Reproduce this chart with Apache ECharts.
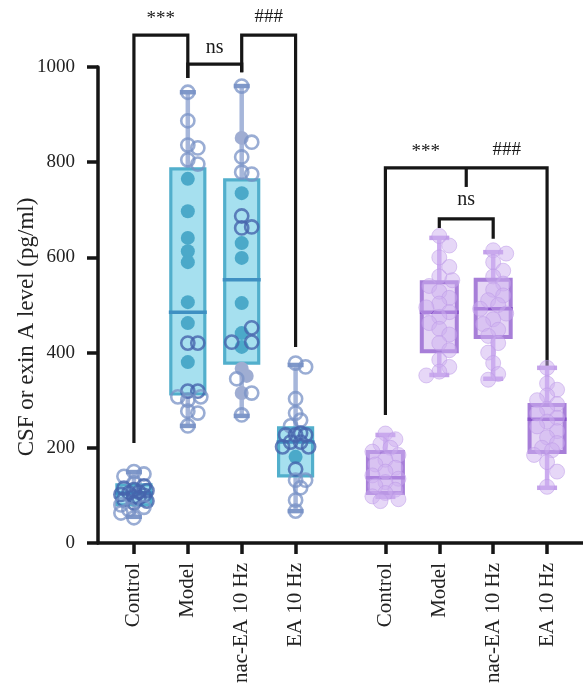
<!DOCTYPE html>
<html><head><meta charset="utf-8">
<script src="https://cdn.jsdelivr.net/npm/echarts@6/dist/echarts.min.js"></script>
<style>html,body{margin:0;padding:0;background:#fff}#c{width:583px;height:684px}</style>
</head><body><div id="c"></div>
<script>
// ---------- data ----------
const categories = ['Control', 'Model', 'nac-EA 10 Hz', 'EA 10 Hz', 'Control', 'Model', 'nac-EA 10 Hz', 'EA 10 Hz'];
const yTickValues = [0, 200, 400, 600, 800, 1000];
// box statistics: [min, Q1, median, Q3, max]
const boxStatsLeft = [
  [55, 80, 105, 122, 149],
  [246, 313, 485, 786, 947],
  [267, 378, 553, 763, 960],
  [67, 141, 212, 242, 374]
];
const boxStatsRight = [
  [97, 105, 137, 191, 227],
  [353, 403, 485, 548, 641],
  [345, 433, 492, 553, 611],
  [116, 191, 260, 290, 368]
];
// individual points, left panel (open and filled markers)
const openPointsLeft = [
  [150, 145, 140, 126, 120, 115, 112, 110, 107, 105, 102, 100, 97, 95, 91, 88, 84, 80, 75, 70, 63, 53],
  [947, 887, 836, 830, 805, 796, 420, 420, 319, 319, 300, 307, 307, 277, 273, 246],
  [960, 842, 811, 779, 775, 687, 662, 664, 452, 422, 422, 345, 315, 269],
  [378, 370, 303, 273, 258, 246, 227, 227, 227, 231, 212, 212, 202, 202, 155, 132, 132, 116, 90, 67]
];
const filledPointsLeft = [
  [],
  [765, 697, 641, 613, 590, 506, 462, 380],
  [851, 735, 630, 599, 504, 441, 412, 366, 351, 315],
  [181]
];
// individual points, right panel
const pointsRight = [
  [230, 218, 208, 200, 192, 185, 175, 165, 158, 150, 142, 135, 128, 120, 112, 105, 98, 92, 88],
  [645, 625, 600, 580, 560, 552, 540, 528, 515, 503, 495, 485, 475, 462, 450, 438, 420, 405, 385, 370, 360, 352],
  [615, 608, 590, 572, 560, 545, 532, 520, 510, 500, 492, 482, 470, 460, 448, 435, 420, 400, 378, 355, 343],
  [368, 335, 322, 310, 300, 292, 282, 272, 263, 255, 245, 235, 222, 210, 200, 195, 185, 170, 150, 118]
];
// significance brackets: [groupA, groupB, top, endA, endB, middleTickEnd(-1 none)]
const bracketRows = [
  [0, 1, 1067, 210, 977, -1],
  [1, 2, 1006, 977, 989, -1],
  [2, 3, 1067, 989, 412, -1],
  [4, 7, 788, 269, 368, 748],
  [5, 6, 681, 662, 639, -1]
];
const sigTexts = ['***', 'ns', '###', '***', '###', 'ns'];
// [groupA, groupB, fraction between them, value]
const sigTextPos = [
  [0, 1, 0.5, 1100],
  [1, 2, 0.5, 1040],
  [2, 3, 0.5, 1105],
  [4, 7, 0.25, 821],
  [4, 7, 0.75, 826],
  [5, 6, 0.5, 721]
];

// ---------- layout ----------
const SLOT_COUNT = 28;
const slotOf = [2, 5, 8, 11, 16, 19, 22, 25];
const xSlots = Array.from({length: SLOT_COUNT}, (_, i) => {
  const k = slotOf.indexOf(i); return k >= 0 ? categories[k] : '';
});
const FONT = 'Liberation Serif';
const PAL = [
  {fill: '#a6e0ef', border: '#52afcc', bw: 3.2, median: '#3f90c2', whisker: '#a6b6da', cap: '#7f98c9', boxW: 34, capW: 16},
  {fill: '#e5d6f5', border: '#a77ed8', bw: 4, median: '#8a55cb', whisker: '#cbabef', cap: '#c4a2ea', boxW: 35, capW: 20}
];
const allStats = boxStatsLeft.concat(boxStatsRight);

const boxData = allStats.map((s, g) => [slotOf[g], s[0], s[1], s[2], s[3], s[4], g < 4 ? 0 : 1]);

const groupPoints = [];
const pointData = [];
for (let g = 0; g < 8; g++) {
  const list = [];
  if (g < 4) {
    filledPointsLeft[g].forEach(v => list.push({v, kind: 1}));
    openPointsLeft[g].forEach(v => list.push({v, kind: 0}));
  } else {
    pointsRight[g - 4].forEach(v => list.push({v, kind: 2}));
  }
  groupPoints.push(list);
  list.forEach((p, i) => pointData.push([slotOf[g], p.v, p.kind, g, i]));
}

const swarmCache = {};
function swarm(g, api) {
  if (swarmCache[g]) return swarmCache[g];
  const ys = groupPoints[g].map(p => api.coord([slotOf[g], p.v])[1]);
  const d = g < 4 ? 8 : 11;
  const cands = [0, 5, -5, 10, -10, 13, -13];
  const placed = [], offs = [];
  ys.forEach(y => {
    let best = 0, bestScore = -1;
    for (const o of cands) {
      let mn = Infinity;
      placed.forEach(p => { mn = Math.min(mn, Math.hypot(p[0] - o, p[1] - y)); });
      if (mn >= d) { best = o; bestScore = Infinity; break; }
      if (mn > bestScore) { bestScore = mn; best = o; }
    }
    placed.push([best, y]); offs.push(best);
  });
  swarmCache[g] = offs;
  return offs;
}

function renderBox(params, api) {
  const slot = api.value(0);
  const x = api.coord([slot, 0])[0];
  const y = [1, 2, 3, 4, 5].map(i => api.coord([slot, api.value(i)])[1]);
  const p = PAL[api.value(6)];
  const w = p.boxW, cw = p.capW;
  return {type: 'group', children: [
    {type: 'line', shape: {x1: x, y1: y[4], x2: x, y2: y[3]}, style: {stroke: p.whisker, lineWidth: 4.5}},
    {type: 'line', shape: {x1: x, y1: y[1], x2: x, y2: y[0]}, style: {stroke: p.whisker, lineWidth: 4.5}},
    {type: 'line', shape: {x1: x - cw / 2, y1: y[4], x2: x + cw / 2, y2: y[4]}, style: {stroke: p.cap, lineWidth: 4.5}},
    {type: 'line', shape: {x1: x - cw / 2, y1: y[0], x2: x + cw / 2, y2: y[0]}, style: {stroke: p.cap, lineWidth: 4.5}},
    {type: 'rect', shape: {x: x - w / 2, y: y[3], width: w, height: y[1] - y[3]},
      style: {fill: p.fill, stroke: p.border, lineWidth: p.bw}},
    {type: 'line', shape: {x1: x - w / 2 - 2, y1: y[2], x2: x + w / 2 + 2, y2: y[2]}, style: {stroke: p.median, lineWidth: 3.5}}
  ]};
}

function renderPoint(params, api) {
  const slot = api.value(0), v = api.value(1), kind = api.value(2), g = api.value(3), idx = api.value(4);
  const c = api.coord([slot, v]);
  const off = swarm(g, api)[idx];
  const st = allStats[g];
  const inside = v > st[1] && v < st[3];
  let style, r = 7;
  if (kind === 0) {
    style = {fill: 'none', stroke: inside ? 'rgba(70,100,172,0.8)' : 'rgba(120,146,198,0.75)', lineWidth: 2.6};
    r = 6.6;
  } else if (kind === 1) {
    style = {fill: inside ? '#4ba9c9' : '#9fadd2', stroke: 'none'};
  } else {
    style = {fill: 'rgba(206,176,240,0.5)', stroke: 'rgba(188,152,232,0.5)', lineWidth: 1};
    r = 7.5;
  }
  return {type: 'circle', shape: {cx: c[0] + off, cy: c[1], r}, style};
}

function renderBracket(params, api) {
  const a = slotOf[api.value(0)], b = slotOf[api.value(1)];
  const xa = api.coord([a, 0])[0], xb = api.coord([b, 0])[0];
  const yt = api.coord([a, api.value(2)])[1];
  const ya = api.coord([a, api.value(3)])[1];
  const yb = api.coord([a, api.value(4)])[1];
  const st = {stroke: '#161616', lineWidth: 3.2, fill: null, lineJoin: 'miter'};
  const children = [{type: 'polyline', shape: {points: [[xa, ya], [xa, yt], [xb, yt], [xb, yb]]}, style: st}];
  const m = api.value(5);
  if (m > 0) {
    const xm = (xa + xb) / 2, ym = api.coord([a, m])[1];
    children.push({type: 'line', shape: {x1: xm, y1: yt, x2: xm, y2: ym}, style: st});
  }
  return {type: 'group', children};
}

function renderSig(params, api) {
  const a = slotOf[api.value(0)], b = slotOf[api.value(1)];
  const xa = api.coord([a, 0])[0], xb = api.coord([b, 0])[0];
  const x = xa + api.value(2) * (xb - xa);
  const y = api.coord([a, api.value(3)])[1];
  const t = sigTexts[params.dataIndex];
  return {type: 'text', x, y, style: {text: t, fill: '#1a1a1a', font: (t === 'ns' ? '20px ' : '19px ') + '"' + FONT + '"', align: 'center', verticalAlign: 'middle'}};
}

const chart = echarts.init(document.getElementById('c'), null, {renderer: 'canvas'});
chart.setOption({
  animation: false,
  backgroundColor: '#fff',
  grid: {left: 98, right: 0, top: 67, bottom: 141, containLabel: false, outerBoundsMode: 'none'},
  xAxis: {
    type: 'category', data: xSlots, boundaryGap: false,
    axisLine: {lineStyle: {color: '#151515', width: 3.5}},
    axisTick: {length: 11, lineStyle: {color: '#151515', width: 3.5}, interval: (i) => slotOf.includes(i)},
    axisLabel: {rotate: 90, interval: (i) => slotOf.includes(i), fontFamily: FONT, fontSize: 21, color: '#222', margin: 20},
    splitLine: {show: false}
  },
  yAxis: {
    type: 'value', min: yTickValues[0], max: yTickValues[yTickValues.length - 1], interval: yTickValues[1] - yTickValues[0],
    name: 'CSF or exin A level (pg/ml)', nameLocation: 'middle', nameGap: 60, nameMoveOverlap: false,
    nameTextStyle: {fontFamily: FONT, fontSize: 23, color: '#222', padding: [0, 44, 0, 0]},
    axisLine: {show: true, lineStyle: {color: '#151515', width: 3.5}},
    axisTick: {show: true, length: 11, lineStyle: {color: '#151515', width: 3.5}},
    axisLabel: {fontFamily: FONT, fontSize: 19, color: '#222', margin: 23, formatter: (v) => String(v)},
    splitLine: {show: false}
  },
  series: [
    {type: 'custom', name: 'brackets', data: bracketRows, renderItem: renderBracket, clip: false, z: 2},
    {type: 'custom', name: 'sig', data: sigTextPos, renderItem: renderSig, clip: false, z: 2},
    {type: 'custom', name: 'boxes', data: boxData, renderItem: renderBox, clip: false, z: 3},
    {type: 'custom', name: 'points', data: pointData, renderItem: renderPoint, clip: false, z: 4}
  ]
});
</script></body></html>
